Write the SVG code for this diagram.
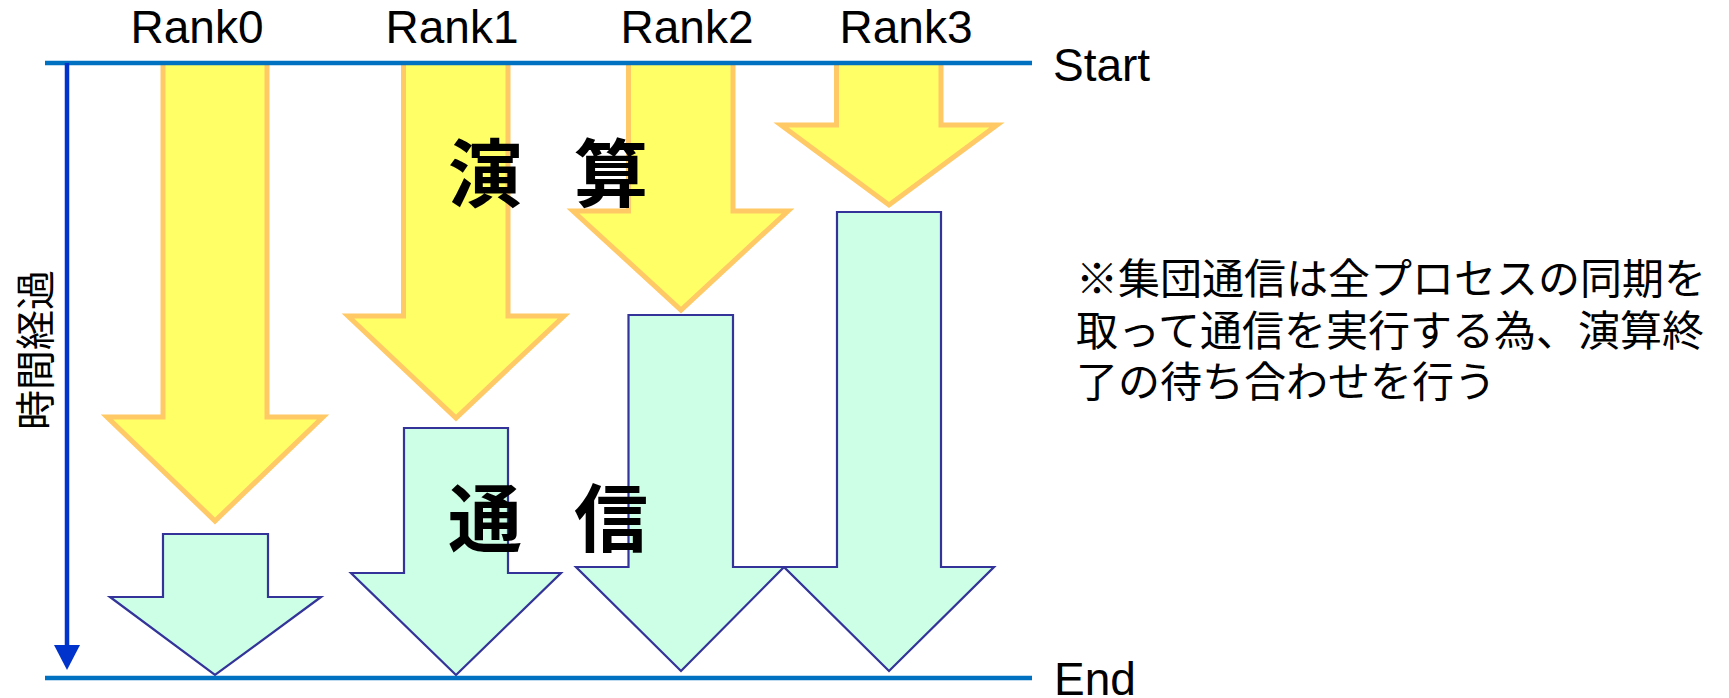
<svg xmlns="http://www.w3.org/2000/svg" width="1729" height="698" viewBox="0 0 1729 698">
<style>
.calc{fill:#ffff66;stroke:#ffc966;stroke-width:5;stroke-linejoin:miter}
.comm{fill:#ccffe5;stroke:#333399;stroke-width:2.2;stroke-linejoin:miter}
.rule{stroke:#0070c0;stroke-width:4.5;fill:none}
.lat{font-family:"Liberation Sans",Arial,sans-serif;font-size:46px;fill:#000}
.jp{font-family:"Noto Sans CJK JP","Noto Sans",sans-serif;fill:#000}
</style>
<rect width="1729" height="698" fill="#fff"/>
<g id="rank0">
<path class="calc" d="M163,63 L163,417 L107,417 L215,521 L323,417 L267,417 L267,63"/>
<path class="comm" d="M163,534 L268,534 L268,597 L321,597 L215,675 L110,597 L163,597 Z"/>
<text class="lat" x="197" y="43" text-anchor="middle">Rank0</text>
</g>
<g id="rank1">
<path class="calc" d="M403.5,63 L403.5,316 L348,316 L456,418 L564,316 L508,316 L508,63"/>
<path class="comm" d="M404,428 L508,428 L508,573 L561,573 L456,675 L351,573 L404,573 Z"/>
<text class="lat" x="452" y="43" text-anchor="middle">Rank1</text>
</g>
<g id="rank2">
<path class="calc" d="M628.5,63 L628.5,211 L573,211 L681,310 L788,211 L733,211 L733,63"/>
<path class="comm" d="M628.5,315 L733,315 L733,567 L784,567 L681,671 L576,567 L628.5,567 Z"/>
<text class="lat" x="687" y="43" text-anchor="middle">Rank2</text>
</g>
<g id="rank3">
<path class="calc" d="M836.5,63 L836.5,125 L781,125 L889,205 L997,125 L941,125 L941,63"/>
<path class="comm" d="M837,212 L941,212 L941,567 L994,567 L889,671 L784,567 L837,567 Z"/>
<text class="lat" x="906" y="43" text-anchor="middle">Rank3</text>
</g>
<g id="connectors">
<line class="rule" x1="45" y1="63" x2="1032" y2="63"/>
<line class="rule" x1="45" y1="678" x2="1032" y2="678"/>
<line x1="67" y1="63" x2="67" y2="648" stroke="#0033cc" stroke-width="4.5"/>
<polygon points="54,645 80,645 67,670" fill="#0033cc"/>
</g>
<g id="labels">
<text class="lat" x="1053" y="81">Start</text>
<text class="lat" x="1054" y="695">End</text>
<text class="jp" x="0" y="0" font-size="40" text-anchor="middle" dominant-baseline="central" transform="translate(33,350) rotate(-90)">時間経過</text>
<text class="jp" x="448 520 574" y="168" font-size="74" font-weight="bold" dominant-baseline="central">演 算</text>
<text class="jp" x="448 520 574" y="513" font-size="74" font-weight="bold" dominant-baseline="central">通 信</text>
<text class="jp" font-size="42" dominant-baseline="central"><tspan x="1076" y="275">※集団通信は全プロセスの同期を</tspan><tspan x="1076" y="327">取って通信を実行する為、演算終</tspan><tspan x="1076" y="378">了の待ち合わせを行う</tspan></text>
</g>
</svg>
